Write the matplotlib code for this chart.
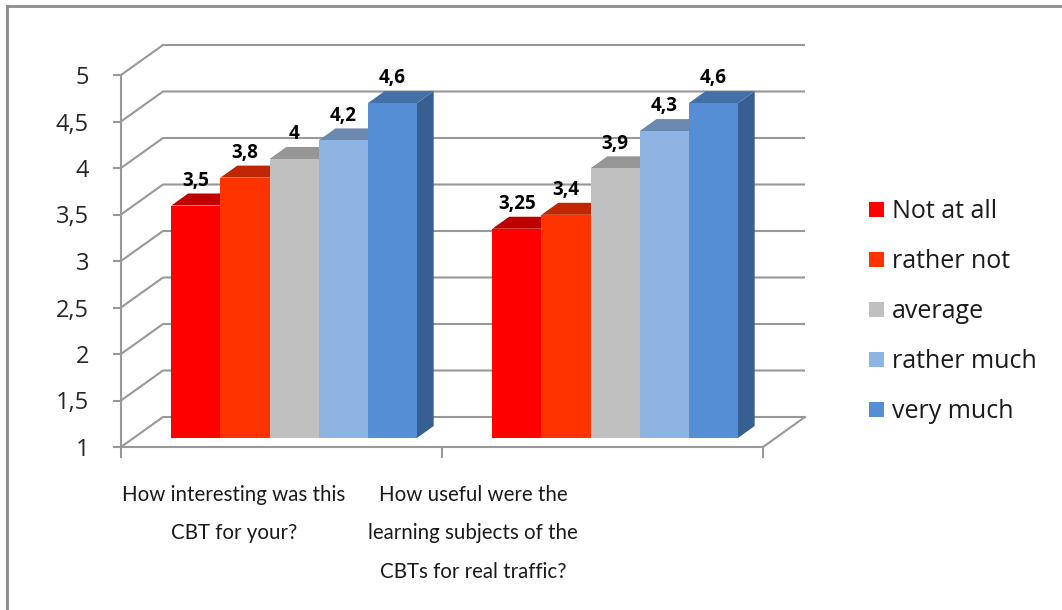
import numpy as np
import matplotlib
matplotlib.use("Agg")
import matplotlib.pyplot as plt
from matplotlib.patches import Polygon, Patch
from matplotlib.lines import Line2D

plt.rcParams['font.family'] = ['Open Sans', 'DejaVu Sans']

# data
questions = ["How interesting was this\nCBT for your?",
             "How useful were the\nlearning subjects of the\nCBTs for real traffic?"]
answers = ["Not at all", "rather not", "average", "rather much", "very much"]
scores_q1 = [3.5, 3.8, 4, 4.2, 4.6]
scores_q2 = [3.25, 3.4, 3.9, 4.3, 4.6]
yticks = [1, 1.5, 2, 2.5, 3, 3.5, 4, 4.5, 5]

front_cols = ["#FF0000", "#FF3300", "#C0C0C0", "#8EB4E3", "#558ED5"]
top_cols = ["#BF0000", "#C02600", "#969696", "#6B88B0", "#4470A8"]
side_cols = ["#A00000", "#A02000", "#7F7F7F", "#5A7396", "#375F92"]
grid_col = "#989898"

W, H = 1062, 610
fig = plt.figure(figsize=(W / 100, H / 100), dpi=100)
ax = fig.add_axes([121 / W, 1 - 447 / H, 642 / W, 372 / H])
ax.patch.set_alpha(0)

# depth of the 3d box in data units
dxf = 42 / 321
dyf = 30 / 93

# walls / gridlines
for v in yticks:
    ax.plot([0, dxf, 2 + dxf], [v, v + dyf, v + dyf], color=grid_col, lw=1.5,
            clip_on=False, zorder=1, solid_capstyle='butt')
ax.plot([2, 2 + dxf], [1, 1 + dyf], color=grid_col, lw=1.5, clip_on=False, zorder=1)

# bars
w = 0.153
d0, d1 = 0.3, 0.7
sx0, sy0 = d0 * dxf, d0 * dyf
sx1, sy1 = d1 * dxf, d1 * dyf
for g, scores in enumerate([scores_q1, scores_q2]):
    for i, v in enumerate(scores):
        x0 = g + 0.5 - 2.5 * w + i * w
        front = Polygon([(x0 + sx0, 1 + sy0), (x0 + w + sx0, 1 + sy0),
                         (x0 + w + sx0, v + sy0), (x0 + sx0, v + sy0)],
                        closed=True, fc=front_cols[i], ec='none', clip_on=False, zorder=3)
        top = Polygon([(x0 + sx0, v + sy0), (x0 + w + sx0, v + sy0),
                       (x0 + w + sx1, v + sy1), (x0 + sx1, v + sy1)],
                      closed=True, fc=top_cols[i], ec='none', clip_on=False, zorder=3)
        side = Polygon([(x0 + w + sx0, 1 + sy0), (x0 + w + sx1, 1 + sy1),
                        (x0 + w + sx1, v + sy1), (x0 + w + sx0, v + sy0)],
                       closed=True, fc=side_cols[i], ec='none', clip_on=False, zorder=3)
        for p in (side, top, front):
            ax.add_patch(p)
        ax.text(x0 + w / 2 + sx0, v + sy1 + 0.03, ("%g" % v).replace('.', ','),
                ha='center', va='bottom', fontsize=13.5, fontweight='bold',
                color='black', zorder=5)

ax.set_xlim(0, 2)
ax.set_ylim(1, 5)
ax.set_yticks(yticks)
ax.set_yticklabels([("%g" % t).replace('.', ',') for t in yticks], fontsize=17, color='#262626')
ax.set_xticks([0, 1, 2])
ax.set_xticklabels([])
for s in ['top', 'right']:
    ax.spines[s].set_visible(False)
for s in ['left', 'bottom']:
    ax.spines[s].set_color(grid_col)
    ax.spines[s].set_linewidth(1.5)
ax.tick_params(axis='y', length=6, width=1.5, color=grid_col, pad=17)
ax.tick_params(axis='x', length=8, width=1.5, color=grid_col)

# category labels
for cx, q in zip([234, 473], questions):
    fig.text(cx / W, 1 - 485 / H, q, ha='center', va='top', fontsize=14.8,
             family=['Lato', 'DejaVu Sans'], linespacing=2.15, color='#1a1a1a')

# legend
handles = [Patch(fc=c, ec='none') for c in front_cols]
fig.legend(handles, answers, loc='center left', bbox_to_anchor=(869 / W, 1 - 312 / H),
           frameon=False, fontsize=18, handlelength=0.58, handleheight=0.58,
           handletextpad=0.35, labelspacing=1.0, borderpad=0, borderaxespad=0,
           labelcolor='#1a1a1a')

# outer border
fig.add_artist(Line2D([7 / W, 7 / W], [0, 1 - 6 / H], color='#8c8c8c', lw=2))
fig.add_artist(Line2D([7 / W, 1], [1 - 6 / H, 1 - 6 / H], color='#8c8c8c', lw=2))

fig.savefig("out.png", dpi=100)
